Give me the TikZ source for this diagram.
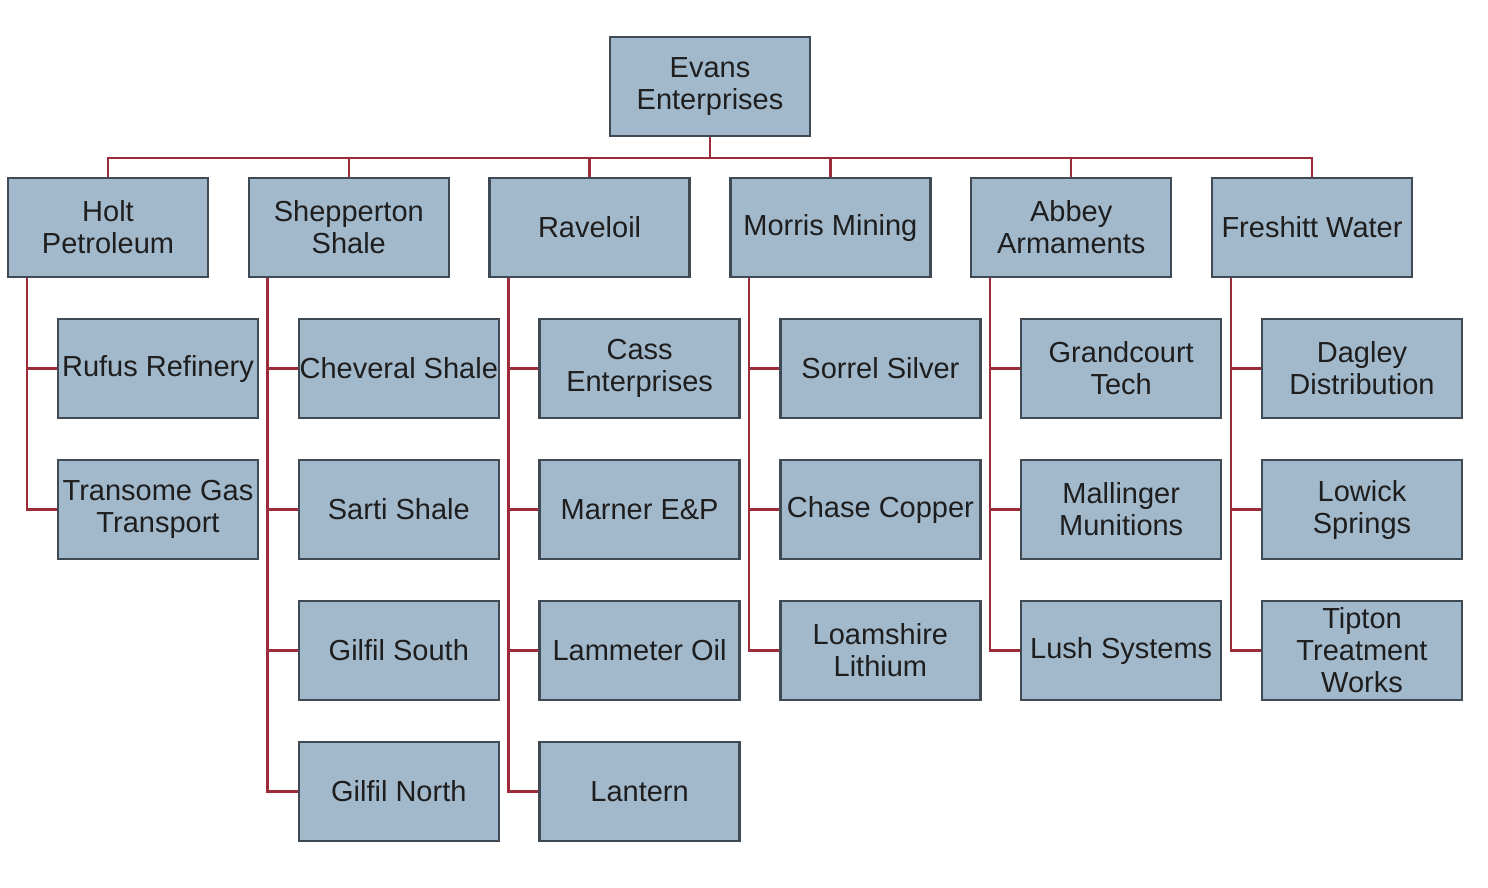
\documentclass[tikz,border=0pt]{standalone}
\usepackage{fontspec}
\setmainfont{Liberation Sans}
\definecolor{boxfill}{HTML}{A2B8CB}
\definecolor{boxline}{HTML}{3F4A54}
\definecolor{conncol}{HTML}{9B2C3A}
\definecolor{txt}{HTML}{1E1E1E}
\tikzset{
  org/.style={draw=boxline, fill=boxfill, line width=2.4pt, minimum width=200pt, minimum height=99pt,
    inner sep=0pt, align=center, text=txt, font=\fontsize{29}{32}\selectfont},
  conn/.style={draw=conncol, line width=2.4pt, line join=miter}
}
\begin{document}
\begin{tikzpicture}[x=1pt,y=-1pt]
\useasboundingbox (0,0) rectangle (1488,887);
% top
\node[org] (top) at (710,86.5) {Evans\\Enterprises};
% level 1
\node[org] (holt) at (108,227.5) {Holt\\Petroleum};
\node[org] (shep) at (348.8,227.5) {Shepperton\\Shale};
\node[org] (rave) at (589.6,227.5) {Raveloil};
\node[org] (morr) at (830.4,227.5) {Morris Mining};
\node[org] (abbe) at (1071.2,227.5) {Abbey\\Armaments};
\node[org] (fres) at (1312,227.5) {Freshitt Water};
% children
\node[org] (rufu) at (158,368.5) {Rufus Refinery};
\node[org] (tran) at (158,509.5) {Transome Gas\\Transport};
\node[org] (chev) at (398.8,368.5) {Cheveral Shale};
\node[org] (sart) at (398.8,509.5) {Sarti Shale};
\node[org] (gils) at (398.8,650.5) {Gilfil South};
\node[org] (giln) at (398.8,791.5) {Gilfil North};
\node[org] (cass) at (639.6,368.5) {Cass\\Enterprises};
\node[org] (marn) at (639.6,509.5) {Marner E\&P};
\node[org] (lamm) at (639.6,650.5) {Lammeter Oil};
\node[org] (lant) at (639.6,791.5) {Lantern};
\node[org] (sorr) at (880.4,368.5) {Sorrel Silver};
\node[org] (chas) at (880.4,509.5) {Chase Copper};
\node[org] (loam) at (880.4,650.5) {Loamshire\\Lithium};
\node[org] (gran) at (1121.2,368.5) {Grandcourt\\Tech};
\node[org] (mall) at (1121.2,509.5) {Mallinger\\Munitions};
\node[org] (lush) at (1121.2,650.5) {Lush Systems};
\node[org] (dagl) at (1362,368.5) {Dagley\\Distribution};
\node[org] (lowi) at (1362,509.5) {Lowick\\Springs};
\node[org] (tipt) at (1362,650.5) {Tipton\\Treatment\\Works};
% connectors (drawn behind by using background via order: redraw nodes not needed since lines end at borders)
\foreach \p in {holt,shep,rave,morr,abbe,fres}
  \draw[conn] (top.south) -- ++(0,21) -| (\p.north);
\foreach \p/\c in {holt/rufu,holt/tran,
  shep/chev,shep/sart,shep/gils,shep/giln,
  rave/cass,rave/marn,rave/lamm,rave/lant,
  morr/sorr,morr/chas,morr/loam,
  abbe/gran,abbe/mall,abbe/lush,
  fres/dagl,fres/lowi,fres/tipt}
  \draw[conn] (\p.south west) ++(20,0) |- (\c.west);
\end{tikzpicture}
\end{document}
